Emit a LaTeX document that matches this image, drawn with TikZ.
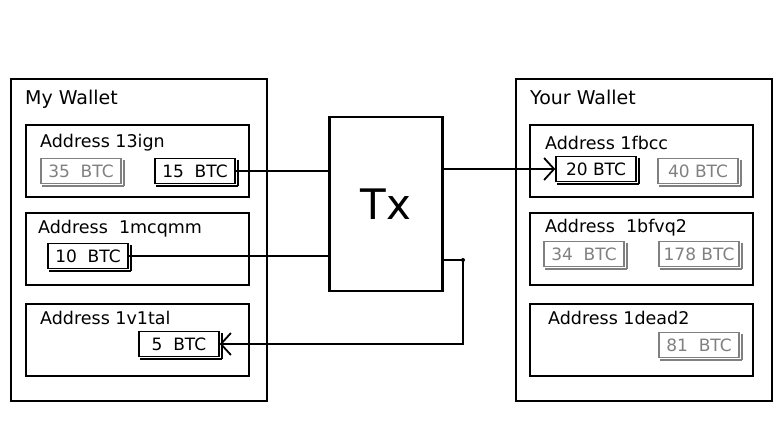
\documentclass[tikz,border=0pt]{standalone}
\usepackage{fontspec}
\setmainfont{DejaVu Sans}
\usetikzlibrary{arrows.meta, positioning, calc}

\tikzstyle{wallet} = [rectangle, draw=black, line width=2.4pt, minimum width=256pt, minimum height=322pt, anchor=north west]
\tikzstyle{address} = [rectangle, draw=black, line width=2.2pt, minimum width=223pt, minimum height=72pt, anchor=north west]
\tikzstyle{walletText} = [anchor=west, inner sep=0pt, font=\fontsize{19}{22}\selectfont]
\tikzstyle{addrText} = [anchor=west, inner sep=0pt, font=\fontsize{17.5}{20}\selectfont]
\tikzstyle{tx} = [rectangle, draw=black, line width=2.4pt, minimum width=113pt, minimum height=174pt, font=\fontsize{42}{48}\selectfont]
\tikzstyle{link} = [line width=2.4pt]
\tikzstyle{arrow} = [line width=2.4pt, -{Straight Barb[length=10pt, width=22pt, line width=1.8pt]}]
\tikzset{coin/.style={rectangle, draw=#1, text=#1, line width=1.4pt, minimum width=80pt, minimum height=25pt,
    font=\fontsize{17}{20}\selectfont,
    append after command={
      ([shift={(2pt,-2pt)}]\tikzlastnode.north east) edge[draw=#1, line width=1.8pt] ([shift={(2pt,-2pt)}]\tikzlastnode.south east)
      ([shift={(2pt,-2pt)}]\tikzlastnode.south east) edge[draw=#1, line width=1.8pt] ([shift={(2pt,-2pt)}]\tikzlastnode.south west)}},
  coin/.default=black}
\colorlet{oldCoin}{black!50}

\begin{document}
\begin{tikzpicture}[x=1pt, y=-1pt]
	\useasboundingbox (0,0) rectangle (775,435);

	% wallets
	\node (myWallet)[wallet] at (10,78) {};
	\node (yourWallet)[wallet] at (515,78) {};
	\node (myWalletText)[walletText] at (25,99) {My Wallet};
	\node (yourWalletText)[walletText] at (530,97) {Your Wallet};

	% my addresses
	\node (a13ign)[address] at (25,124) {};
	\node (a1mcqmm)[address] at (25,212) {};
	\node (a1v1tal)[address] at (25,303) {};
	\node[addrText] at (40,143) {Address 13ign};
	\node[addrText] at (38,229) {Address~ 1mcqmm};
	\node[addrText] at (40,318) {Address 1v1tal};

	% your addresses
	\node (a1fbcc)[address] at (529,124) {};
	\node (a1bfvq2)[address] at (529,212) {};
	\node (a1dead2)[address] at (529,303) {};
	\node[addrText] at (545,143) {Address 1fbcc};
	\node[addrText] at (545,228) {Address~ 1bfvq2};
	\node[addrText] at (548,318) {Address 1dead2};

	% coins
	\node (c35)[coin=oldCoin] at (81,171) {35~ BTC};
	\node (c15)[coin] at (195,171) {15~ BTC};
	\node (c10)[coin] at (88,256) {10~ BTC};
	\node (c5)[coin] at (179,344) {5~ BTC};
	\node (c20)[coin] at (596,169) {20 BTC};
	\node (c40)[coin=oldCoin] at (698,171) {40 BTC};
	\node (c34)[coin=oldCoin] at (584,254) {34~ BTC};
	\node (c178)[coin=oldCoin] at (699,254) {178 BTC};
	\node (c81)[coin=oldCoin] at (699,345) {81~ BTC};

	% transaction
	\node (tx)[tx] at (386,204) {Tx};

	% change corner
	\coordinate (turn) at (463,260);

	% lines and arrows
	\draw[link] (c15.east) -- (c15.east -| tx.west);
	\draw[link] (c10.east) -- (c10.east -| tx.west);
	\draw[arrow] (c20.west -| tx.east) -- (c20.west);
	\draw[arrow] (turn -| tx.east) -- (turn) |- (c5.east);
	\fill (turn) circle (2pt);

\end{tikzpicture}
\end{document}
